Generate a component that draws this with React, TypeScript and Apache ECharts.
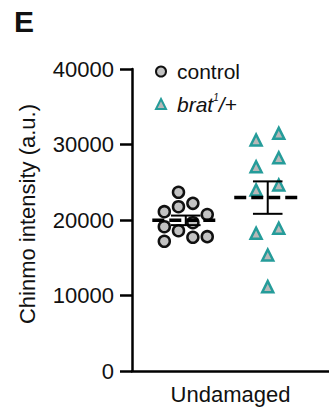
import React, { useEffect, useRef } from "react";
import * as echarts from "echarts";

const categories = ["Undamaged"];
const yTicks = [0, 10000, 20000, 30000, 40000];

// control: x positions (jitter, hidden value axis 0..100) and values
const controlX = [23.6, 23.6, 30.9, 16.4, 38.2, 30.9, 16.4, 23.6, 30.9, 38.2, 16.4];
const controlY = [23670, 21760, 22210, 21100, 20730, 19640, 19110, 18580, 17710, 17790, 17180];

// brat1/+ : x positions and values
const bratX = [63.0, 74.5, 74.5, 63.0, 63.0, 74.5, 63.0, 74.5, 68.9, 68.9];
const bratY = [30600, 31480, 28250, 27060, 23970, 24640, 18240, 18900, 15360, 11170];

const groupCenters = [27.3, 68.9];
const seriesNames = ["control", "brat1/+"];

const FONT = "'Liberation Sans', Arial, Helvetica, sans-serif";

function meanSem(v: number[]) {
  const n = v.length;
  const m = v.reduce((a, b) => a + b, 0) / n;
  const sd = Math.sqrt(v.reduce((a, b) => a + (b - m) * (b - m), 0) / (n - 1));
  return { m, s: sd / Math.sqrt(n) };
}

export default function App() {
  const ref = useRef<HTMLDivElement>(null);
  useEffect(() => {
    if (!ref.current) return;
    const chart = echarts.init(ref.current, undefined, { renderer: "svg" });
    const stats = [meanSem(controlY), meanSem(bratY)];
    const meanHalf = 17;
    const capHalf = 7.5;
    const lineSeries: any[] = [];
    stats.forEach((st, i) => {
      const c = groupCenters[i];
      lineSeries.push({
        type: "line",
        xAxisIndex: 1,
        data: [[c - meanHalf, st.m], [c + meanHalf, st.m]],
        symbol: "none",
        lineStyle: { color: "#000", width: 3.5, type: [12, 5] },
        z: 5,
        silent: true,
      });
      lineSeries.push({
        type: "line",
        xAxisIndex: 1,
        data: [[c, st.m - st.s], [c, st.m + st.s]],
        symbol: "none",
        lineStyle: { color: "#000", width: 2 },
        z: 5,
        silent: true,
      });
      [st.m - st.s, st.m + st.s].forEach((yv) => {
        lineSeries.push({
          type: "line",
          xAxisIndex: 1,
          data: [[c - capHalf, yv], [c + capHalf, yv]],
          symbol: "none",
          lineStyle: { color: "#000", width: 2 },
          z: 5,
          silent: true,
        });
      });
    });

    chart.setOption({
      animation: false,
      textStyle: { fontFamily: FONT },
      grid: { left: 132, right: -14, top: 69, bottom: 40 },
      graphic: [
        {
          type: "text",
          left: 14,
          top: 6,
          style: { text: "E", font: `bold 30px ${FONT}`, fill: "#111" },
        },
      ],
      legend: {
        data: seriesNames,
        orient: "vertical",
        left: 150,
        top: 56,
        itemWidth: 10,
        itemHeight: 10,
        itemGap: 10,
        formatter: (name: string) =>
          name === "control" ? "{a|control}" : "{b|brat}{s|1}{i|/+}",
        textStyle: {
          color: "#111",
          fontSize: 21,
          rich: {
            a: { fontSize: 21, lineHeight: 24, padding: [0, 0, 0, 6], color: "#111" },
            b: { fontSize: 21, lineHeight: 24, fontStyle: "italic", padding: [0, 0, 0, 6], color: "#111" },
            s: { fontSize: 10, lineHeight: 19, fontStyle: "italic", verticalAlign: "top", color: "#111" },
            i: { fontSize: 21, lineHeight: 24, fontStyle: "italic", color: "#111" },
          },
        },
      },
      xAxis: [
        {
          type: "category",
          data: categories,
          axisLine: { lineStyle: { color: "#000", width: 2.5 } },
          axisTick: { show: false },
          axisLabel: { color: "#111", fontSize: 22, margin: 12, fontFamily: FONT },
        },
        { type: "value", min: 0, max: 100, show: false },
      ],
      yAxis: {
        type: "value",
        min: yTicks[0],
        max: yTicks[yTicks.length - 1],
        interval: 10000,
        name: "Chinmo intensity (a.u.)",
        nameLocation: "middle",
        nameRotate: 90,
        nameGap: 94,
        nameTextStyle: { color: "#111", fontSize: 22, fontFamily: FONT, padding: [0, 0, 0, 12] },
        splitLine: { show: false },
        axisLine: { show: true, lineStyle: { color: "#000", width: 2.5 } },
        axisTick: { show: true, length: 12, lineStyle: { color: "#000", width: 2.5 } },
        axisLabel: {
          color: "#111",
          fontSize: 22,
          margin: 18,
          fontFamily: FONT,
          formatter: (v: number) => String(v),
        },
      },
      series: [
        {
          name: seriesNames[0],
          type: "scatter",
          xAxisIndex: 1,
          symbol: "circle",
          symbolSize: 11,
          data: controlX.map((x, i) => [x, controlY[i]]),
          itemStyle: { color: "#c2c2c2", borderColor: "#111", borderWidth: 2.5, opacity: 1 },
          z: 3,
        },
        {
          name: seriesNames[1],
          type: "scatter",
          xAxisIndex: 1,
          symbol: "triangle",
          symbolSize: 11,
          data: bratX.map((x, i) => [x, bratY[i]]),
          itemStyle: { color: "#b8b8b8", borderColor: "#259c9a", borderWidth: 2.5, opacity: 1 },
          z: 3,
        },
        ...lineSeries,
      ],
    });
    return () => chart.dispose();
  }, []);
  return (
    <div
      ref={ref}
      style={{ position: "fixed", left: 0, top: 0, width: 329, height: 411, background: "#fff" }}
    />
  );
}
